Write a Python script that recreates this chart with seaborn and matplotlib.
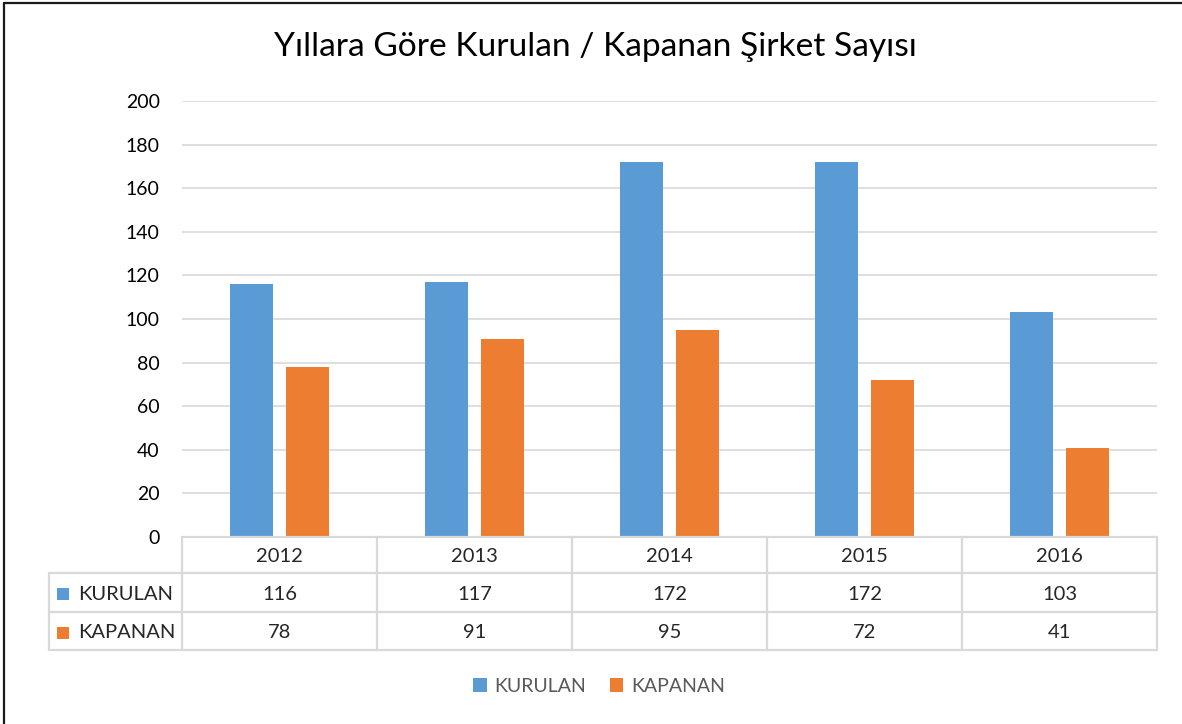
import pandas as pd
import matplotlib.pyplot as plt
import seaborn as sns
from matplotlib.lines import Line2D
from matplotlib.patches import Rectangle

# Data
years = ['2012', '2013', '2014', '2015', '2016']
kurulan = [116, 117, 172, 172, 103]
kapanan = [78, 91, 95, 72, 41]
series_names = ['KURULAN', 'KAPANAN']
colors = ['#5B9BD5', '#ED7D31']

df = pd.DataFrame({
    'Yil': years * 2,
    'Sayi': kurulan + kapanan,
    'Seri': [series_names[0]] * len(years) + [series_names[1]] * len(years),
})

sns.set_style('white')
plt.rcParams['font.family'] = ['Lato', 'DejaVu Sans']

fig = plt.figure(figsize=(11.82, 7.24), dpi=100)
ax = fig.add_axes([182 / 1182, 1 - 537 / 724, 975 / 1182, 436 / 724])

sns.barplot(data=df, x='Yil', y='Sayi', hue='Seri', palette=colors, saturation=1,
            width=0.574, gap=0.23, linewidth=0, ax=ax)

ax.set_ylim(0, 200)
ax.set_xlim(-0.5, len(years) - 0.5)
ax.set_yticks(range(0, 201, 20))
ax.yaxis.grid(True, color='#d9d9d9', linewidth=1.2)
ax.set_axisbelow(True)
ax.tick_params(axis='y', length=0, pad=16, labelsize=14, labelcolor='#000000')
ax.set_xticks([])
ax.set_xlabel('')
ax.set_ylabel('')
for s in ax.spines.values():
    s.set_visible(False)

# Title
fig.text(595 / 1182, 1 - 47 / 724, 'Yıllara Göre Kurulan / Kapanan Şirket Sayısı',
         ha='center', va='center', fontsize=24.1, color='#000000')

# Data table under the axes
px = 1 / 436  # axes fraction per pixel vertically
tr = ax.get_xaxis_transform()
lc = '#d9d9d9'
lw = 1.6
fs = 14.5
y_head_top = 0
y_r1 = -36 * px
y_r2 = -75 * px
y_r3 = -113 * px
x_lab = -0.5 - 133 / 195
x_right = len(years) - 0.5

lines = [
    ([-0.5, x_right], [y_head_top, y_head_top]),
    ([x_lab, x_right], [y_r1, y_r1]),
    ([x_lab, x_right], [y_r2, y_r2]),
    ([x_lab, x_right], [y_r3, y_r3]),
    ([x_lab, x_lab], [y_r1, y_r3]),
]
for i in range(len(years) + 1):
    xv = i - 0.5
    lines.append(([xv, xv], [y_head_top, y_r3]))
for xs, ys in lines:
    ax.add_line(Line2D(xs, ys, transform=tr, color=lc, lw=lw, clip_on=False))

row_centers = [(y_head_top + y_r1) / 2 - 1 * px, (y_r1 + y_r2) / 2 - 1.5 * px,
               (y_r2 + y_r3) / 2 - 1.5 * px]
for i, yr in enumerate(years):
    ax.text(i, row_centers[0], yr, transform=tr, ha='center', va='center', fontsize=fs)
    ax.text(i, row_centers[1], str(kurulan[i]), transform=tr, ha='center', va='center', fontsize=fs)
    ax.text(i, row_centers[2], str(kapanan[i]), transform=tr, ha='center', va='center', fontsize=fs)

sq = 12 / 195
for k, name in enumerate(series_names):
    yc = row_centers[k + 1]
    ax.add_patch(Rectangle((x_lab + 8 / 195, yc - 6 * px), sq, 12 * px, transform=tr,
                           facecolor=colors[k], edgecolor='none', clip_on=False))
    ax.text(x_lab + 29 / 195, yc, name, transform=tr, ha='left', va='center', fontsize=fs)

# Legend
handles, labels = ax.get_legend_handles_labels()
leg = fig.legend(handles, labels, loc='center', bbox_to_anchor=(599 / 1182, 1 - 686 / 724),
                 ncol=2, frameon=False, fontsize=14, handlelength=0.7, handleheight=0.7,
                 handletextpad=0.4, columnspacing=1.2)
for t in leg.get_texts():
    t.set_color('#595959')
if ax.get_legend() is not None:
    ax.get_legend().remove()

# Chart frame (left and top edges visible)
fig.add_artist(Line2D([4 / 1182, 4 / 1182], [0, 1 - 3 / 724], transform=fig.transFigure,
                      color='#1a1a1a', lw=1.6))
fig.add_artist(Line2D([4 / 1182, 1], [1 - 3 / 724, 1 - 3 / 724], transform=fig.transFigure,
                      color='#1a1a1a', lw=1.6))

fig.savefig('out.png', dpi=100)
